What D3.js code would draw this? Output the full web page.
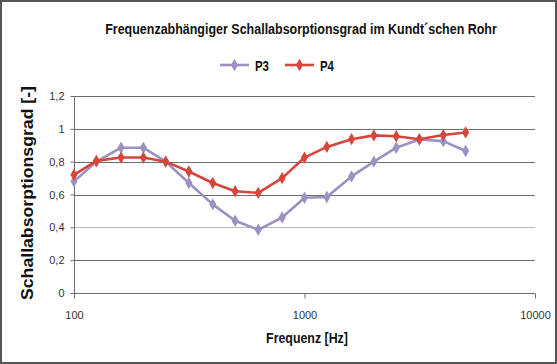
<!DOCTYPE html>
<html><head><meta charset="utf-8">
<script src="https://cdn.jsdelivr.net/npm/d3@7"></script>
<style>
html,body{margin:0;padding:0;background:#fff;}
svg{display:block;}
</style></head>
<body>
<svg id="chart" width="557" height="364"></svg>
<script>
const frequencies = [100,125,160,200,250,315,400,500,630,800,1000,1250,1600,2000,2500,3150,4000,5000];
const p3 = [0.68,0.80,0.885,0.885,0.80,0.67,0.54,0.44,0.385,0.46,0.58,0.585,0.71,0.80,0.885,0.935,0.925,0.865];
const p4 = [0.72,0.805,0.825,0.825,0.80,0.74,0.67,0.62,0.61,0.70,0.825,0.89,0.937,0.96,0.955,0.937,0.962,0.978];
const seriesNames = ["P3","P4"];
const seriesColors = ["#9d90c2","#d6463b"];
const yTicks = [0,0.2,0.4,0.6,0.8,1,1.2];
const xTicks = [100,1000,10000];
const title = "Frequenzabhängiger Schallabsorptionsgrad im Kundt´schen Rohr";
const xTitle = "Frequenz [Hz]";
const yTitle = "Schallabsorptionsgrad [-]";

const svg = d3.select("#chart");
const W = 557, H = 364;
const m = {left:74, right:22, top:96, bottom:71};
const x = d3.scaleLog().domain([100,10000]).range([m.left, W - m.right]);
const y = d3.scaleLinear().domain([0,1.2]).range([H - m.bottom, m.top]);
const sans = "'Liberation Sans',Arial,sans-serif";

// condensed text: horizontally scaled to a target width
function condText(parent, str, cx, cy, size, width, anchor) {
  const g = parent.append("g").attr("transform", `translate(${cx},${cy})`);
  const t = g.append("text").attr("text-anchor", anchor || "middle")
    .attr("font-family", sans).attr("font-weight", "bold").attr("font-size", size)
    .attr("fill", "#111").text(str);
  const w = t.node().getComputedTextLength();
  t.attr("transform", `scale(${width / w},1)`);
  return g;
}

svg.append("rect").attr("x",1).attr("y",1).attr("width",W-2).attr("height",H-2)
  .attr("fill","#fff").attr("stroke","#555").attr("stroke-width",2);

// gridlines
svg.append("g").selectAll("line").data(yTicks.filter(d=>d>0)).join("line")
  .attr("x1",m.left).attr("x2",W-m.right)
  .attr("y1",d=>Math.round(y(d))+0.5).attr("y2",d=>Math.round(y(d))+0.5)
  .attr("stroke",d=>Math.abs(d-0.4)<1e-6?"#b8b8b8":"#6e6e6e").attr("stroke-width",1.2);

// y axis
const yAxis = svg.append("g").attr("transform",`translate(${m.left}.5,0)`)
  .call(d3.axisLeft(y).tickValues(yTicks).tickSize(4).tickPadding(6)
    .tickFormat(d=>String(d).replace(".",",")));
yAxis.select(".domain").attr("stroke","#6e6e6e").attr("d",`M0,${y(1.2)}V${y(0)}`);
yAxis.selectAll(".tick line").attr("stroke","#6e6e6e");
yAxis.selectAll("text").attr("font-family",sans).attr("font-size",11).attr("fill","#333");

// x axis
const xAxis = svg.append("g").attr("transform",`translate(0,${Math.round(y(0))+0.5})`)
  .call(d3.axisBottom(x).tickValues(xTicks).tickSize(5).tickPadding(13).tickFormat(d3.format("d")));
xAxis.select(".domain").attr("stroke","#6e6e6e").attr("d",`M${x(100)},0H${x(10000)}`);
xAxis.selectAll(".tick line").attr("stroke","#6e6e6e");
xAxis.selectAll("text").attr("font-family",sans).attr("font-size",11).attr("fill","#333");

// series
const data = [p3,p4];
const line = d3.line().x((d,i)=>x(frequencies[i])).y(d=>y(d));
const diamond = d3.symbol().type(d3.symbolDiamond).size(44);
data.forEach((vals,k)=>{
  const g = svg.append("g");
  g.append("path").datum(vals).attr("d",line).attr("fill","none")
    .attr("stroke",seriesColors[k]).attr("stroke-width",2.6).attr("stroke-linejoin","round");
  g.selectAll("path.m").data(vals).join("path").attr("class","m")
    .attr("transform",(d,i)=>`translate(${x(frequencies[i])},${y(d)})`)
    .attr("d",diamond).attr("fill",seriesColors[k]);
});

// title
condText(svg, title, 301, 34, 15.5, 392);

// legend
const legX = [220,285];
seriesNames.forEach((n,k)=>{
  const g = svg.append("g").attr("transform",`translate(${legX[k]},65)`);
  g.append("line").attr("x1",0).attr("x2",29).attr("y1",0).attr("y2",0)
    .attr("stroke",seriesColors[k]).attr("stroke-width",2.6);
  g.append("path").attr("transform","translate(14.5,0)").attr("d",diamond).attr("fill",seriesColors[k]);
  condText(g, n, 35, 5.5, 15.5, 14, "start");
});

// axis titles
condText(svg, xTitle, 307, 342.5, 15.5, 82);
svg.append("text").attr("transform","translate(33,193) rotate(-90)").attr("text-anchor","middle")
  .attr("font-family",sans).attr("font-weight","bold").attr("font-size",16.5).attr("fill","#111")
  .attr("textLength",214).attr("lengthAdjust","spacingAndGlyphs").text(yTitle);
</script>
</body></html>
